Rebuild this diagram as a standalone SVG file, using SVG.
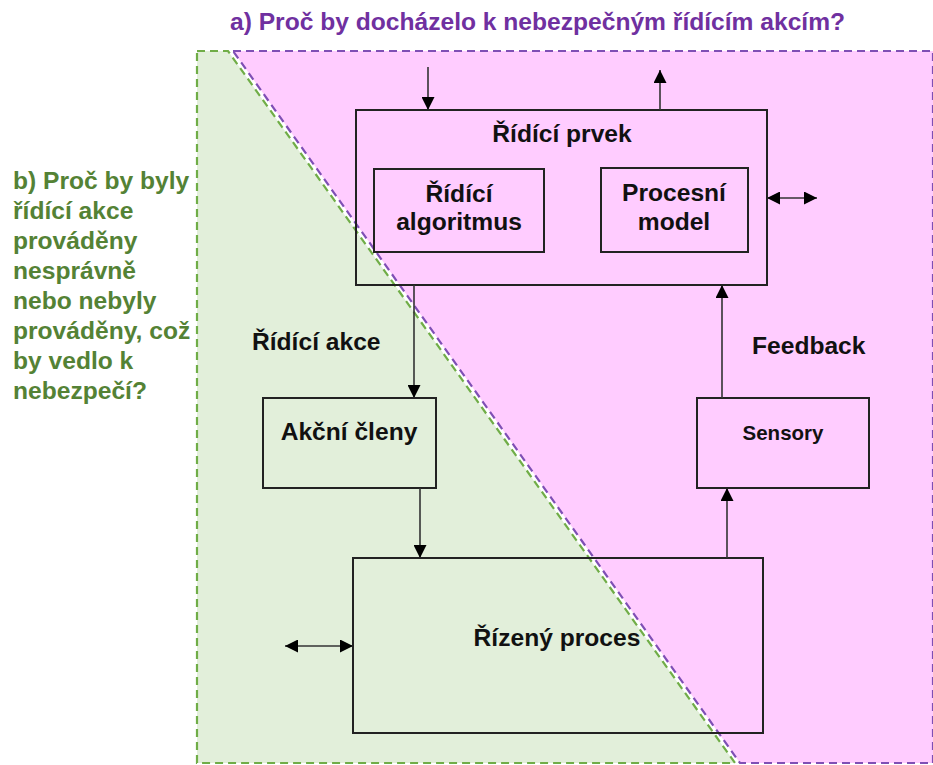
<svg xmlns="http://www.w3.org/2000/svg" width="933" height="765" viewBox="0 0 933 765">
<style>
text{font-family:"Liberation Sans",Arial,sans-serif;font-weight:bold;font-size:24.6px;fill:#111}
.box{fill:none;stroke:#222;stroke-width:2}
.con{stroke:#333;stroke-width:1.6;fill:none}
.mid{text-anchor:middle}
.green{fill:#548235}
.purple{fill:#7030A0}
</style>
<defs>
<marker id="ah" markerUnits="userSpaceOnUse" markerWidth="13" markerHeight="13" refX="13" refY="6.5" orient="auto-start-reverse">
<path d="M0,0 L13,6.5 L0,13 z" fill="#000"/>
</marker>
</defs>
<g id="regions">
<polygon points="197,51 228,51 735,763 197,763" fill="#E2EFDA" stroke="#70AD47" stroke-width="2.2" stroke-dasharray="8,5"/>
<polygon points="233,51 933,51 933,763 740,763" fill="#FFCCFF" stroke="#7F4FB5" stroke-width="2.2" stroke-dasharray="8,5"/>
</g>
<text id="title" class="purple" x="230" y="30">a) Proč by docházelo k nebezpečným řídícím akcím?</text>
<g id="question-b" class="green">
<text class="green" x="13" y="189">b) Proč by byly</text>
<text class="green" x="13" y="219">řídící akce</text>
<text class="green" x="13" y="249">prováděny</text>
<text class="green" x="13" y="279">nesprávně</text>
<text class="green" x="13" y="309">nebo nebyly</text>
<text class="green" x="13" y="339">prováděny, což</text>
<text class="green" x="13" y="369">by vedlo k</text>
<text class="green" x="13" y="399">nebezpečí?</text>
</g>
<g id="ridici-prvek">
<rect class="box" x="356" y="110" width="411" height="175"/>
<text class="mid" x="562" y="142">Řídící prvek</text>
</g>
<g id="ridici-algoritmus">
<rect class="box" x="374" y="169" width="170" height="83"/>
<text class="mid" x="459" y="202">Řídící</text>
<text class="mid" x="459" y="230">algoritmus</text>
</g>
<g id="procesni-model">
<rect class="box" x="601" y="168" width="147" height="84"/>
<text class="mid" x="674" y="201">Procesní</text>
<text class="mid" x="674" y="230">model</text>
</g>
<g id="akcni-cleny">
<rect class="box" x="263" y="398" width="173" height="90"/>
<text class="mid" x="349" y="440">Akční členy</text>
</g>
<g id="sensory">
<rect class="box" x="697" y="398" width="172" height="90"/>
<text class="mid" x="783" y="440" style="font-size:20.5px">Sensory</text>
</g>
<g id="rizeny-proces">
<rect class="box" x="353" y="558" width="410" height="175"/>
<text class="mid" x="557" y="646">Řízený proces</text>
</g>
<g id="labels">
<text x="252" y="350">Řídící akce</text>
<text x="752" y="354">Feedback</text>
</g>
<g id="connectors">
<line class="con" x1="428" y1="67" x2="428" y2="110" marker-end="url(#ah)"/>
<line class="con" x1="660" y1="110" x2="660" y2="70" marker-end="url(#ah)"/>
<line class="con" x1="767" y1="198" x2="817" y2="198" marker-start="url(#ah)" marker-end="url(#ah)"/>
<line class="con" x1="414" y1="285" x2="414" y2="398" marker-end="url(#ah)"/>
<line class="con" x1="420" y1="488" x2="420" y2="558" marker-end="url(#ah)"/>
<line class="con" x1="727" y1="558" x2="727" y2="488" marker-end="url(#ah)"/>
<line class="con" x1="722" y1="398" x2="722" y2="285" marker-end="url(#ah)"/>
<line class="con" x1="285" y1="646" x2="353" y2="646" marker-start="url(#ah)" marker-end="url(#ah)"/>
</g>
</svg>
